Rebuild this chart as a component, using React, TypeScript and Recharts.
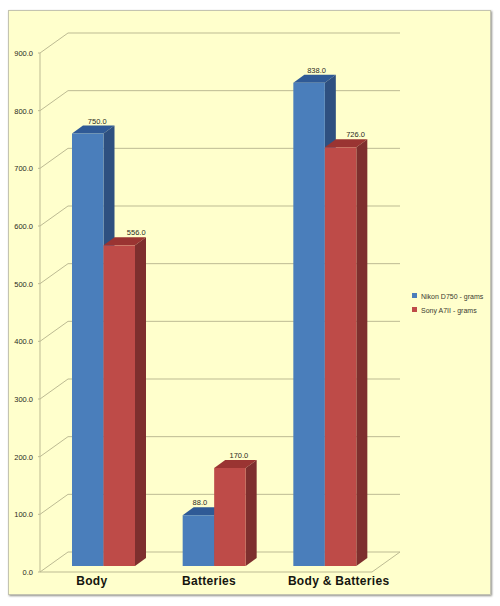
import React from "react";
import { BarChart, Bar, XAxis, YAxis, Legend, LabelList, CartesianGrid } from "recharts";

const categories = ["Body", "Batteries", "Body & Batteries"];
const nikon = [750, 88, 838];
const sony = [556, 170, 726];
const yTicks = [0, 100, 200, 300, 400, 500, 600, 700, 800, 900];
const rows = categories.map((c, i) => ({ c, nikon: nikon[i], sony: sony[i] }));

const GRID = "#BDBB93";
const TEXT = "#2b2b22";
const DEPTH_X = 28;
const DEPTH_Y = 20;
const SHIFT_X = 8;
const SHIFT_Y = 6;
const BAR_DX = 11;
const BAR_DY = 8;
const X_LABEL_NUDGE = [-3.5, 3, 22];
const NIKON_LABEL_NUDGE = [9.5, 1.5, 7.5];
const SONY_LABEL_NUDGE = [17, 9, 15];

const GridLine = (p: any) => {
  const { x1, x2, y1: y } = p;
  return (
    <g key={p.key}>
      <polyline
        fill="none"
        stroke={GRID}
        strokeWidth={1}
        points={`${x1 - 2},${y} ${x1},${y} ${x1 + DEPTH_X},${y - DEPTH_Y} ${x2 + DEPTH_X},${y - DEPTH_Y}`}
      />
      <line x1={x2} y1={y} x2={x2 + DEPTH_X} y2={y - DEPTH_Y} stroke={GRID} strokeWidth={1} opacity={p.index === 0 ? 1 : 0} />
    </g>
  );
};

const YTick = (p: any) => (
  <text x={p.x} y={p.y + 3} textAnchor="end" fontSize={7.5} fontFamily="Liberation Sans" fill={TEXT}>
    {p.payload.value.toFixed(1)}
  </text>
);

const XTick = (p: any) => (
  <text
    x={p.x + X_LABEL_NUDGE[p.index]}
    y={p.y + 13}
    textAnchor="middle"
    fontSize={12}
    fontWeight="bold"
    letterSpacing={0.3}
    fontFamily="Liberation Sans"
    fill="#15150f"
  >
    {p.payload.value}
  </text>
);

const Bar3D = (p: any) => {
  const x = p.x + SHIFT_X;
  const y = p.y - SHIFT_Y;
  const w = p.width;
  const h = p.height;
  return (
    <g>
      <polygon
        fill={p.topFill}
        points={`${x},${y} ${x + BAR_DX},${y - BAR_DY} ${x + w + BAR_DX},${y - BAR_DY} ${x + w},${y}`}
      />
      <polygon
        fill={p.sideFill}
        points={`${x + w},${y} ${x + w + BAR_DX},${y - BAR_DY} ${x + w + BAR_DX},${y + h - BAR_DY} ${x + w},${y + h}`}
      />
      <rect x={x} y={y} width={w} height={h} fill={p.frontFill} />
    </g>
  );
};

const ValueLabel = (p: any) => (
  <text
    x={p.x + p.width / 2 + SHIFT_X + p.nudge[p.index]}
    y={p.y - SHIFT_Y - 10}
    textAnchor="middle"
    fontSize={7.5}
    fontFamily="Liberation Sans"
    fill={TEXT}
  >
    {Number(p.value).toFixed(1)}
  </text>
);

const legendText = (v: string) => (
  <span style={{ fontSize: 7, lineHeight: "10px", fontFamily: "Liberation Sans", color: "#3a3a30", whiteSpace: "nowrap" }}>{v}</span>
);

export default function App() {
  return (
    <div style={{ position: "absolute", left: 0, top: 0, width: 500, height: 606, background: "#fff" }}>
      <div
        style={{
          position: "absolute",
          left: 8,
          top: 10,
          width: 481,
          height: 583,
          background: "#FFFFCC",
          border: "1px solid #C4C4B0",
          boxShadow: "1px 1px 2px #8f8f88",
        }}
      />
      <div style={{ position: "absolute", left: 0, top: 0 }}>
        <BarChart
          width={500}
          height={606}
          data={rows}
          margin={{ top: 53, right: 128, bottom: 0, left: 0 }}
          barSize={31.5}
          barGap={0}
        >
          <CartesianGrid
            vertical={false}
            horizontal={(g: any) => <GridLine {...g} />}
            syncWithTicks
          />
          <XAxis
            dataKey="c"
            axisLine={{ stroke: GRID }}
            tickLine={false}
            tickSize={0}
            tickMargin={0}
            tick={<XTick />}
            interval={0}
            height={34}
          />
          <YAxis
            domain={[0, 900]}
            ticks={yTicks}
            width={40}
            axisLine={{ stroke: GRID }}
            tickLine={false}
            tickSize={0}
            tickMargin={7}
            tick={<YTick />}
            interval={0}
          />
          <Legend
            layout="vertical"
            align="center"
            verticalAlign="middle"
            iconType="square"
            iconSize={5}
            formatter={legendText}
            wrapperStyle={{ left: 412, top: 288, width: 84, lineHeight: "11px" }}
          />
          <Bar
            dataKey="nikon"
            name="Nikon D750 - grams"
            fill="#4A7EBB"
            isAnimationActive={false}
            shape={(s: any) => <Bar3D {...s} frontFill="#4A7EBB" topFill="#2F5A96" sideFill="#2E5080" />}
          >
            <LabelList dataKey="nikon" content={<ValueLabel nudge={NIKON_LABEL_NUDGE} />} />
          </Bar>
          <Bar
            dataKey="sony"
            name="Sony A7II - grams"
            fill="#BE4B48"
            isAnimationActive={false}
            shape={(s: any) => <Bar3D {...s} frontFill="#BE4B48" topFill="#9A3432" sideFill="#7E2F2E" />}
          >
            <LabelList dataKey="sony" content={<ValueLabel nudge={SONY_LABEL_NUDGE} />} />
          </Bar>
        </BarChart>
      </div>
    </div>
  );
}
